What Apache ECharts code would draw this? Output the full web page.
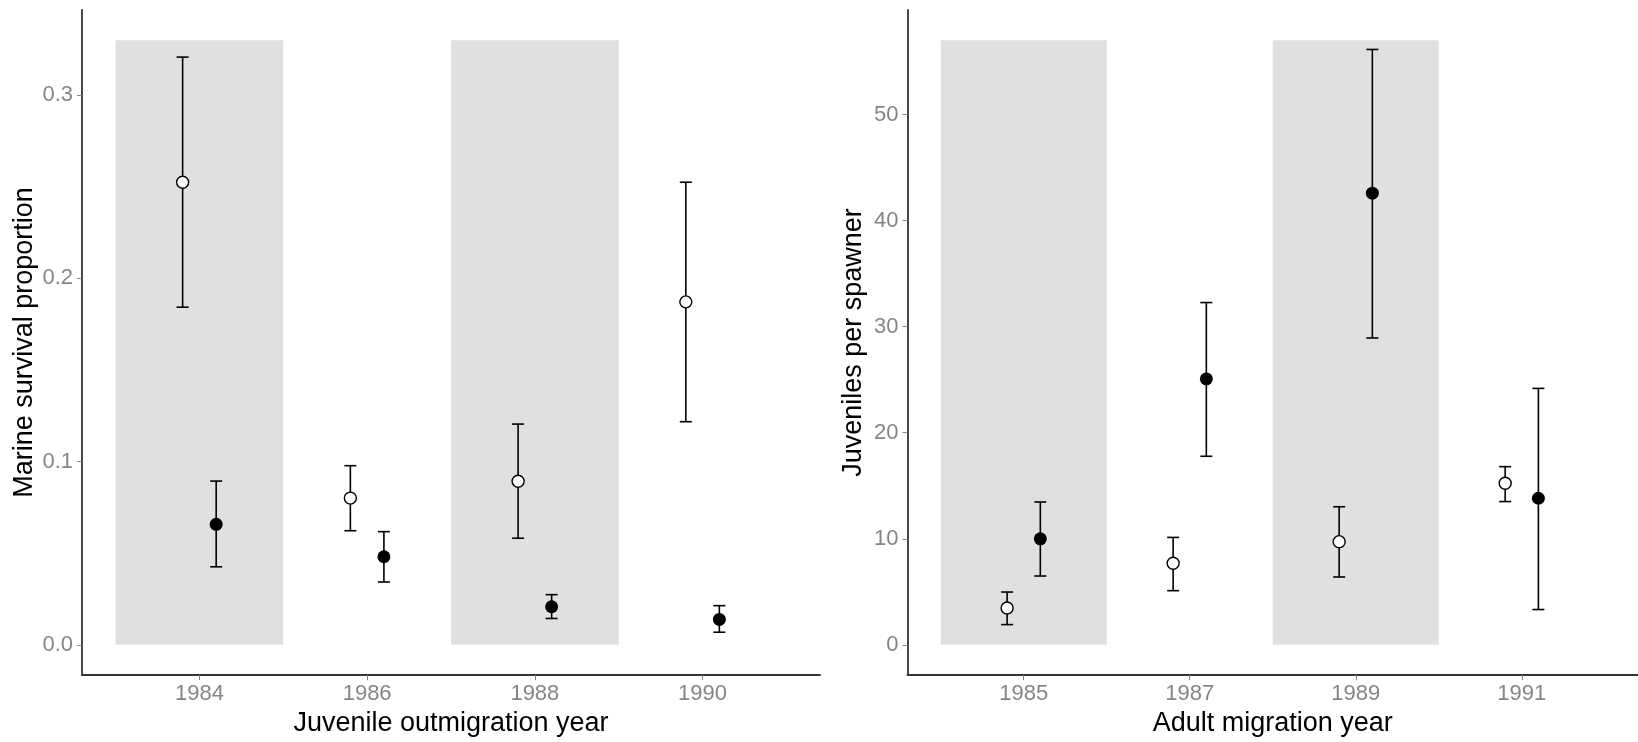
<!DOCTYPE html>
<html>
<head>
<meta charset="utf-8">
<script src="https://cdn.jsdelivr.net/npm/echarts@6/dist/echarts.min.js"></script>
<style>
  html, body { margin: 0; padding: 0; background: #ffffff; }
  #chart { width: 1638px; height: 742px; }
</style>
</head>
<body>
<div id="chart"></div>
<script>
// ---- Left panel: marine survival by juvenile outmigration year ----
const survivalYears = [1984, 1986, 1988, 1990];
const survivalOpenMean  = [0.2525, 0.0801, 0.0893, 0.1872];
const survivalOpenLow   = [0.1843, 0.0623, 0.0582, 0.1218];
const survivalOpenHigh  = [0.3208, 0.0978, 0.1205, 0.2525];
const survivalFilledMean = [0.0658, 0.0481, 0.0208, 0.0139];
const survivalFilledLow  = [0.0426, 0.0343, 0.0144, 0.0069];
const survivalFilledHigh = [0.0894, 0.0618, 0.0274, 0.0214];
const survivalShadeStart = [1983, 1987];
const survivalShadeEnd   = [1985, 1989];
const survivalShadeTop = 0.33;
const survivalTicksX = [1984, 1986, 1988, 1990];
const survivalTicksY = [0, 0.1, 0.2, 0.3];

// ---- Right panel: juveniles per spawner by adult migration year ----
const spawnYears = [1985, 1987, 1989, 1991];
const spawnOpenMean  = [3.47, 7.69, 9.73, 15.24];
const spawnOpenLow   = [1.91, 5.11, 6.40, 13.51];
const spawnOpenHigh  = [4.98, 10.13, 13.02, 16.80];
const spawnFilledMean = [10.0, 25.07, 42.58, 13.82];
const spawnFilledLow  = [6.49, 17.78, 28.93, 3.33];
const spawnFilledHigh = [13.47, 32.27, 56.13, 24.18];
const spawnShadeStart = [1984, 1988];
const spawnShadeEnd   = [1986, 1990];
const spawnShadeTop = 57;
const spawnTicksX = [1985, 1987, 1989, 1991];
const spawnTicksY = [0, 10, 20, 30, 40, 50];

// ---- shared drawing settings ----
const DODGE = 0.2;            // horizontal offset of the two groups within a year
const CAP_HALF = 6;           // half width of the error-bar caps in pixels
const FONT = '"Liberation Sans", Arial, sans-serif';
const TICK_GREY = '#858585';
const AXIS_DARK = '#333333';

function shadeRows(starts, ends, top) {
  return starts.map((s, i) => [s, ends[i], 0, top]);
}
function barRows(years, low, high, offset) {
  return years.map((y, i) => [y + offset, low[i], high[i]]);
}
function pointRows(years, mean, offset) {
  return years.map((y, i) => [y + offset, mean[i]]);
}

function renderShade(params, api) {
  const p0 = api.coord([api.value(0), api.value(3)]);
  const p1 = api.coord([api.value(1), api.value(2)]);
  return {
    type: 'rect',
    shape: { x: p0[0], y: p0[1], width: p1[0] - p0[0], height: p1[1] - p0[1] },
    style: { fill: '#e0e0e0' }
  };
}

function renderErrorBar(params, api) {
  const x = api.value(0);
  const lo = api.coord([x, api.value(1)]);
  const hi = api.coord([x, api.value(2)]);
  const st = { stroke: '#000000', lineWidth: 1.6 };
  return {
    type: 'group',
    children: [
      { type: 'line', shape: { x1: lo[0], y1: lo[1], x2: hi[0], y2: hi[1] }, style: st },
      { type: 'line', shape: { x1: lo[0] - CAP_HALF, y1: lo[1], x2: lo[0] + CAP_HALF, y2: lo[1] }, style: st },
      { type: 'line', shape: { x1: hi[0] - CAP_HALF, y1: hi[1], x2: hi[0] + CAP_HALF, y2: hi[1] }, style: st }
    ]
  };
}

function xAxisFor(gridIndex, min, max, ticks, title) {
  return {
    type: 'value', gridIndex, min, max,
    name: title, nameLocation: 'middle', nameGap: 31,
    nameTextStyle: { fontFamily: FONT, fontSize: 27, color: '#000000' },
    splitLine: { show: false },
    axisLine: { onZero: false, lineStyle: { color: AXIS_DARK, width: 1.8 } },
    axisTick: { show: true, length: 5, customValues: ticks, lineStyle: { color: TICK_GREY, width: 1 } },
    axisLabel: { customValues: ticks, margin: 8, fontFamily: FONT, fontSize: 22, color: TICK_GREY,
                 formatter: v => String(v) }
  };
}

function yAxisFor(gridIndex, min, max, ticks, title, gap, fmt) {
  return {
    type: 'value', gridIndex, min, max,
    name: title, nameLocation: 'middle', nameGap: gap,
    nameTextStyle: { fontFamily: FONT, fontSize: 27, color: '#000000' },
    splitLine: { show: false },
    axisLine: { onZero: false, lineStyle: { color: AXIS_DARK, width: 1.8 } },
    axisTick: { show: true, length: 5, customValues: ticks, lineStyle: { color: TICK_GREY, width: 1 } },
    axisLabel: { customValues: ticks, margin: 9, fontFamily: FONT, fontSize: 22, color: TICK_GREY,
                 formatter: fmt }
  };
}

function panelSeries(idx, shade, yearsArr, oMean, oLow, oHigh, fMean, fLow, fHigh) {
  return [
    {
      type: 'custom', xAxisIndex: idx, yAxisIndex: idx, z: 1, silent: true,
      renderItem: renderShade, encode: { x: [0, 1], y: [2, 3] }, data: shade
    },
    {
      type: 'custom', xAxisIndex: idx, yAxisIndex: idx, z: 2, silent: true,
      renderItem: renderErrorBar, encode: { x: 0, y: [1, 2] },
      data: barRows(yearsArr, oLow, oHigh, -DODGE)
    },
    {
      type: 'custom', xAxisIndex: idx, yAxisIndex: idx, z: 2, silent: true,
      renderItem: renderErrorBar, encode: { x: 0, y: [1, 2] },
      data: barRows(yearsArr, fLow, fHigh, DODGE)
    },
    {
      type: 'scatter', xAxisIndex: idx, yAxisIndex: idx, z: 3, silent: true,
      symbol: 'circle', symbolSize: 12,
      itemStyle: { color: '#ffffff', borderColor: '#000000', borderWidth: 1.4, opacity: 1 },
      data: pointRows(yearsArr, oMean, -DODGE)
    },
    {
      type: 'scatter', xAxisIndex: idx, yAxisIndex: idx, z: 3, silent: true,
      symbol: 'circle', symbolSize: 13,
      itemStyle: { color: '#000000', opacity: 1 },
      data: pointRows(yearsArr, fMean, DODGE)
    }
  ];
}

const chart = echarts.init(document.getElementById('chart'), null, { renderer: 'canvas' });

chart.setOption({
  backgroundColor: '#ffffff',
  animation: false,
  grid: [
    { left: 82, top: 10, width: 738, height: 667.5 },
    { left: 907.5, top: 10, width: 741, height: 667.5 }
  ],
  xAxis: [
    xAxisFor(0, 1982.6, 1991.4, survivalTicksX, 'Juvenile outmigration year'),
    xAxisFor(1, 1983.6, 1992.4, spawnTicksX, 'Adult migration year')
  ],
  yAxis: [
    yAxisFor(0, -0.0165, 0.3465, survivalTicksY, 'Marine survival proportion', 44, v => v.toFixed(1)),
    yAxisFor(1, -2.85, 59.85, spawnTicksY, 'Juveniles per spawner', 40, v => String(v))
  ],
  series: [
    ...panelSeries(0, shadeRows(survivalShadeStart, survivalShadeEnd, survivalShadeTop), survivalYears,
      survivalOpenMean, survivalOpenLow, survivalOpenHigh,
      survivalFilledMean, survivalFilledLow, survivalFilledHigh),
    ...panelSeries(1, shadeRows(spawnShadeStart, spawnShadeEnd, spawnShadeTop), spawnYears,
      spawnOpenMean, spawnOpenLow, spawnOpenHigh,
      spawnFilledMean, spawnFilledLow, spawnFilledHigh)
  ]
});
</script>
</body>
</html>
